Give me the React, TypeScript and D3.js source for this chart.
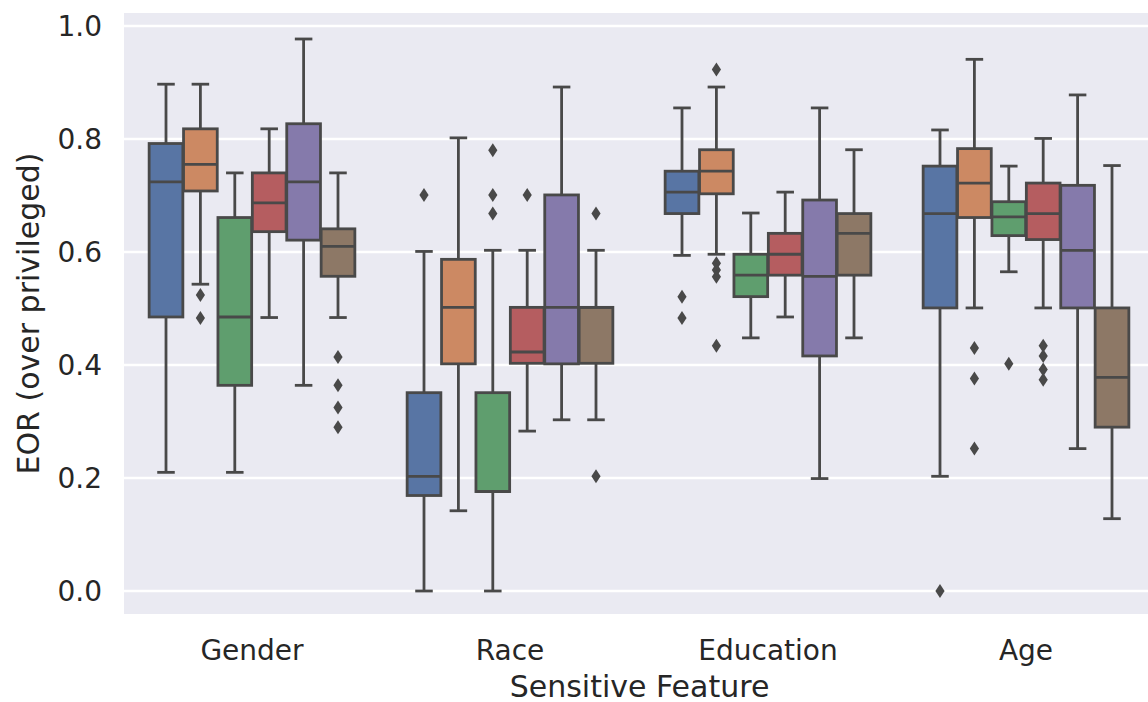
import React from "react";
import * as d3 from "d3";

const categories = ["Gender", "Race", "Education", "Age"];
const hueColors = ["#5875a4", "#cc8963", "#5f9e6e", "#b55d60", "#857aab", "#8d7866"];
const yTicks = [0.0, 0.2, 0.4, 0.6, 0.8, 1.0];

// [category][hue]
const whiskLo = [
  [0.21, 0.543, 0.21, 0.484, 0.364, 0.484],
  [0.0, 0.142, 0.0, 0.283, 0.303, 0.303],
  [0.594, 0.596, 0.448, 0.485, 0.199, 0.448],
  [0.203, 0.501, 0.565, 0.501, 0.252, 0.128],
];
const q1s = [
  [0.485, 0.708, 0.364, 0.636, 0.621, 0.557],
  [0.169, 0.402, 0.176, 0.403, 0.402, 0.403],
  [0.668, 0.703, 0.521, 0.559, 0.416, 0.559],
  [0.501, 0.661, 0.629, 0.622, 0.501, 0.29],
];
const medians = [
  [0.724, 0.755, 0.485, 0.687, 0.724, 0.61],
  [0.203, 0.502, 0.176, 0.423, 0.502, 0.502],
  [0.706, 0.743, 0.559, 0.596, 0.557, 0.633],
  [0.668, 0.722, 0.662, 0.668, 0.603, 0.378],
];
const q3s = [
  [0.792, 0.818, 0.661, 0.74, 0.827, 0.641],
  [0.351, 0.587, 0.351, 0.502, 0.701, 0.502],
  [0.743, 0.781, 0.596, 0.633, 0.692, 0.668],
  [0.752, 0.783, 0.689, 0.722, 0.718, 0.501],
];
const whiskHi = [
  [0.897, 0.897, 0.74, 0.818, 0.977, 0.74],
  [0.601, 0.802, 0.603, 0.603, 0.892, 0.603],
  [0.855, 0.892, 0.669, 0.706, 0.855, 0.781],
  [0.816, 0.941, 0.752, 0.801, 0.878, 0.753],
];
const outliers = [
  [[], [0.524, 0.483], [], [], [], [0.414, 0.364, 0.325, 0.29]],
  [[0.701], [], [0.78, 0.701, 0.668], [0.701], [], [0.668, 0.203]],
  [[0.521, 0.483], [0.923, 0.58, 0.568, 0.556, 0.434], [], [], [], []],
  [[0.0], [0.43, 0.376, 0.252], [0.402], [0.434, 0.416, 0.392, 0.374], [], []],
];

const W = 1148;
const H = 702;
const plotLeft = 124;
const plotTop = 13;
const plotBottom = 614;
const plotRight = 1155;
const lineColor = "#494949";
const textColor = "#262626";
const font = "'DejaVu Sans', sans-serif";

export default function App() {
  const x = d3.scaleBand<string>().domain(categories).range([123, 1155]).padding(0);
  const y = d3.scaleLinear().domain([0, 1]).range([591, 26]);
  const nH = hueColors.length;
  const groupW = x.bandwidth() * 0.8;
  const slot = groupW / nH;
  const boxW = slot * 0.98;
  const capW = boxW * 0.52;
  const hueOffset = d3.scaleBand<number>().domain(d3.range(nH)).range([-groupW / 2, groupW / 2]);

  const diamond = (cx: number, cy: number) => {
    const h = 7, w = 4.6;
    return `M${cx},${cy - h}L${cx + w},${cy}L${cx},${cy + h}L${cx - w},${cy}Z`;
  };

  return (
    <svg width={W} height={H} style={{ position: "absolute", left: 0, top: 0 }} fontFamily={font}>
      <defs>
        <clipPath id="plotclip">
          <rect x={plotLeft} y={plotTop} width={W - plotLeft} height={plotBottom - plotTop} />
        </clipPath>
      </defs>
      <rect x={0} y={0} width={W} height={H} fill="#ffffff" />
      <rect x={plotLeft} y={plotTop} width={plotRight - plotLeft} height={plotBottom - plotTop} fill="#eaeaf2" />
      {yTicks.map((t) => (
        <line key={t} x1={plotLeft} x2={plotRight} y1={y(t)} y2={y(t)} stroke="#ffffff" strokeWidth={2.6} />
      ))}
      <g clipPath="url(#plotclip)">
        {categories.map((c, ci) => (
          <g key={c}>
            {hueColors.map((col, hi) => {
              const cx = (x(c) as number) + x.bandwidth() / 2 + (hueOffset(hi) as number) + slot / 2;
              return (
                <g key={hi}>
                  <line x1={cx} x2={cx} y1={y(whiskHi[ci][hi])} y2={y(q3s[ci][hi])} stroke={lineColor} strokeWidth={2.8} />
                  <line x1={cx} x2={cx} y1={y(q1s[ci][hi])} y2={y(whiskLo[ci][hi])} stroke={lineColor} strokeWidth={2.8} />
                  <line x1={cx - capW / 2} x2={cx + capW / 2} y1={y(whiskHi[ci][hi])} y2={y(whiskHi[ci][hi])} stroke={lineColor} strokeWidth={2.8} />
                  <line x1={cx - capW / 2} x2={cx + capW / 2} y1={y(whiskLo[ci][hi])} y2={y(whiskLo[ci][hi])} stroke={lineColor} strokeWidth={2.8} />
                  <rect
                    x={cx - boxW / 2}
                    y={y(q3s[ci][hi])}
                    width={boxW}
                    height={y(q1s[ci][hi]) - y(q3s[ci][hi])}
                    fill={col}
                    stroke={lineColor}
                    strokeWidth={2.8}
                  />
                  <line x1={cx - boxW / 2} x2={cx + boxW / 2} y1={y(medians[ci][hi])} y2={y(medians[ci][hi])} stroke={lineColor} strokeWidth={2.8} />
                  {outliers[ci][hi].map((v, k) => (
                    <path key={k} d={diamond(cx, y(v))} fill={lineColor} />
                  ))}
                </g>
              );
            })}
          </g>
        ))}
      </g>
      {yTicks.map((t) => (
        <text key={t} x={102} y={y(t)} dy="0.36em" textAnchor="end" fontSize={28} fill={textColor}>
          {t.toFixed(1)}
        </text>
      ))}
      {categories.map((c) => (
        <text key={c} x={(x(c) as number) + x.bandwidth() / 2} y={650} dy="0.36em" textAnchor="middle" fontSize={28} fill={textColor}>
          {c}
        </text>
      ))}
      <text x={(plotLeft + plotRight) / 2} y={686} dy="0.36em" textAnchor="middle" fontSize={30} fill={textColor}>
        Sensitive Feature
      </text>
      <text transform={`translate(28,${(plotTop + plotBottom) / 2}) rotate(-90)`} dy="0.36em" textAnchor="middle" fontSize={30} fill={textColor}>
        EOR (over privileged)
      </text>
    </svg>
  );
}
